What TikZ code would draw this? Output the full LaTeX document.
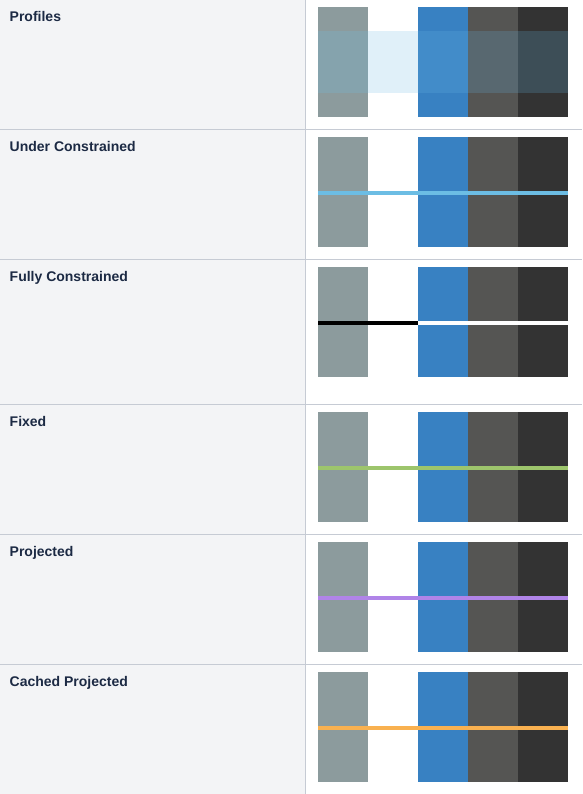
\documentclass[tikz,border=0pt]{standalone}
\usepackage{fontspec}
\setmainfont{Liberation Sans}
\definecolor{leftbg}{HTML}{F3F4F6}
\definecolor{rule}{HTML}{C6CBD4}
\definecolor{txt}{HTML}{1C2A44}
\definecolor{sgray}{HTML}{8C9B9D}
\definecolor{sblue}{HTML}{3881C2}
\definecolor{sdark}{HTML}{555553}
\definecolor{sdarker}{HTML}{333333}
\definecolor{ogray}{HTML}{85A3AD}
\definecolor{olight}{HTML}{E0F0F9}
\definecolor{oblue}{HTML}{428CC9}
\definecolor{odark}{HTML}{586870}
\definecolor{odarker}{HTML}{3D4E57}
\definecolor{lunder}{HTML}{6CBDE4}
\definecolor{lfixed}{HTML}{9DC56C}
\definecolor{lproj}{HTML}{B084E8}
\definecolor{lcached}{HTML}{F9B150}
\newcommand\myswatches[1]{%
  \fill[sgray] (318,#1) rectangle (368,#1+110);
  \fill[sblue] (418,#1) rectangle (468,#1+110);
  \fill[sdark] (468,#1) rectangle (518,#1+110);
  \fill[sdarker] (518,#1) rectangle (568,#1+110);
}
\tikzset{
  lbl/.style={anchor=base west, inner sep=0pt, text=txt,
    font=\bfseries\fontsize{14}{16}\selectfont},
  divider/.style={draw=rule, line width=1pt}
}
\begin{document}
\begin{tikzpicture}[x=1pt,y=-1pt]
\useasboundingbox (0,0) rectangle (582,794);
\fill[leftbg] (0,0) rectangle (305,794);
\fill[white] (305,0) rectangle (582,794);
% dividers
\coordinate (vt) at (305.5,0);
\coordinate (vb) at (305.5,794);
\draw[divider] (vt) -- (vb);
\foreach \y in {129.5,259.5,404.5,534.5,664.5}{
  \draw[divider] (0,\y) -- (582,\y);
}
% Row 1: Profiles
\myswatches{7}
\fill[ogray] (318,31) rectangle (368,93);
\fill[olight] (368,31) rectangle (418,93);
\fill[oblue] (418,31) rectangle (468,93);
\fill[odark] (468,31) rectangle (518,93);
\fill[odarker] (518,31) rectangle (568,93);
% Row 2: Under constrained
\myswatches{137}
\fill[lunder] (318,191) rectangle (568,195);
% Row 3: Fully constrained
\myswatches{267}
\fill[black] (318,321) rectangle (418,325);
\fill[white] (418,321) rectangle (568,325);
% Row 4: Fixed
\myswatches{412}
\fill[lfixed] (318,466) rectangle (568,470);
% Row 5: Projected
\myswatches{542}
\fill[lproj] (318,596) rectangle (568,600);
% Row 6: Cached projected
\myswatches{672}
\fill[lcached] (318,726) rectangle (568,730);
% labels
\node[lbl] (t1) at (9.5,21.5) {Profiles};
\node[lbl] (t2) at (9.5,151.5) {Under Constrained};
\node[lbl] (t3) at (9.5,281.5) {Fully Constrained};
\node[lbl] (t4) at (9.5,426.5) {Fixed};
\node[lbl] (t5) at (9.5,556.5) {Projected};
\node[lbl] (t6) at (9.5,686.5) {Cached Projected};
\end{tikzpicture}
\end{document}
